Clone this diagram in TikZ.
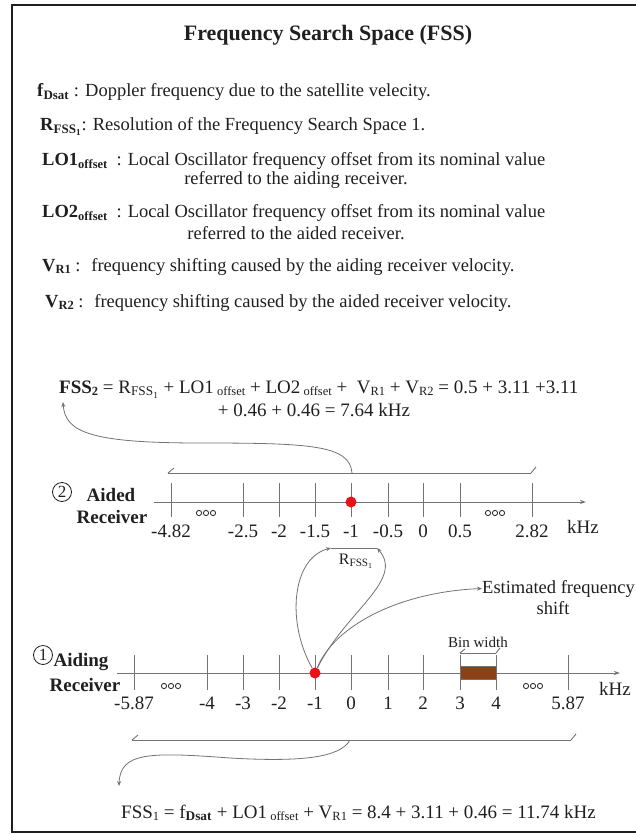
\documentclass[tikz,border=0pt]{standalone}
\usepackage{fontspec}
\setmainfont{Liberation Serif}
\usepackage{xcolor}
\definecolor{binfill}{RGB}{139,64,24}
\definecolor{estdot}{RGB}{232,18,24}
\definecolor{axisgray}{gray}{0.45}
\definecolor{ink}{gray}{0.12}
\usetikzlibrary{arrows.meta}
\usetikzlibrary{positioning}
\usetikzlibrary{calc}

\newcommand{\fs}[1]{\fontsize{#1}{#1}\selectfont}
\newcommand{\smallsub}[1]{\raisebox{-0.3ex}{\fs{12.5}#1}}

\begin{document}
\begin{tikzpicture}[x=1pt,y=-1pt,
	txt/.style={inner sep=0pt, text=ink, font=\fs{18.5}},
	deftxt/.style={txt, anchor=base west},
	eqtxt/.style={txt, font=\fs{19}},
	ticklbl/.style={txt, anchor=base, font=\fs{19}},
	rcvlbl/.style={txt, anchor=base, font=\fs{19}\bfseries},
	numcirc/.style={circle, draw=ink, thick, inner sep=0pt, minimum size=19pt, font=\fs{17}, text=ink},
	axisline/.style={draw=axisgray, line width=1pt, -{Stealth[length=6pt,width=4pt]}},
	tick/.style={draw=axisgray, line width=0.9pt},
	spanline/.style={draw=axisgray, line width=0.9pt},
	curvearrow/.style={draw=axisgray, line width=0.8pt, -{Stealth[length=5pt,width=4pt]}},
	estpt/.style={circle, fill=estdot, inner sep=0pt, minimum size=11pt},
	]
	\useasboundingbox (0,0) rectangle (635,834);
	%frame, open to the right
	\draw[line width=2.4pt, ink] (645,5) -- (12,5) -- (12,832) -- (645,832);

	%title & definitions
	\node[txt, anchor=base, font=\fs{22}\bfseries] (title) at (328,41) {Frequency Search Space (FSS)};
	\node[deftxt] (fdsat) at (37,97) {\textbf{f}\textsubscript{\bfseries Dsat} : Doppler frequency due to the satellite velecity.};
	\node[deftxt] (rfss) at (40,131) {\textbf{R}\textsubscript{\bfseries FSS\textsubscript{1}}: Resolution of the Frequency Search Space 1.};
	\node[deftxt] (lo1) at (42,166) {\textbf{LO1}\smallsub{\bfseries offset} \ : Local Oscillator frequency offset from its nominal value};
	\node[txt, anchor=base] (lo1b) at (296,185) {referred to the aiding receiver.};
	\node[deftxt] (lo2) at (42,218) {\textbf{LO2}\smallsub{\bfseries offset} \ : Local Oscillator frequency offset from its nominal value};
	\node[txt, anchor=base] (lo2b) at (296,239) {referred to the aided receiver.};
	\node[deftxt] (vr1) at (42,271) {\textbf{V}\smallsub{\bfseries R1} : \ frequency shifting caused by the aiding receiver velocity.};
	\node[deftxt] (vr2) at (45,307) {\textbf{V}\smallsub{\bfseries R2} : \ frequency shifting caused by the aided receiver velocity.};

	%FSS2 equation
	\node[eqtxt, anchor=base west] (fss2) at (59,393) {\textbf{FSS}\smallsub{\bfseries 2} = R\textsubscript{FSS\textsubscript{1}} + LO1\,\smallsub{offset} + LO2\,\smallsub{offset} + \ V\smallsub{R1} + V\smallsub{R2} = 0.5 + 3.11 +3.11};
	\node[eqtxt, anchor=base] (fss2b) at (314,416) {+ 0.46 + 0.46 = 7.64 kHz};

	%aided receiver axis
	\node[rcvlbl] (aided) at (111,501) {Aided};
	\node[rcvlbl] (aidedrcv) at (112,523) {Receiver};
	\node[numcirc] (num2) at (62,492) {2};
	\draw[axisline] (154,502) -- (586,502);
	\foreach \v/\x in {-4.82/171,-2.5/243,-2/279,-1.5/315,-1/351,-0.5/388,0/423,0.5/460,2.82/532}
	{
		\draw[tick] (\x,483) -- (\x,517);
		\node[ticklbl] at (\x,537) {\v};
	}
	\foreach \c in {206,495}
		\foreach \k in {-7,0,7}
			\draw[ink, line width=0.8pt] (\c+\k,513) circle (2.6pt);
	\node[ticklbl] (aidedkhz) at (583,533) {kHz};
	\node[estpt] (aidedpt) at (351,502) {};

	%FSS2 span
	\coordinate (fss2l) at (168,473);
	\coordinate (fss2r) at (531,473);
	\coordinate (fss2m) at (352,473);
	\coordinate (fss2tip) at (63,402);
	\draw[spanline] (fss2l) -- (fss2r);
	\draw[spanline] (fss2l) -- ++(6,-5);
	\draw[spanline] (fss2r) -- ++(5,-6);
	\draw[curvearrow] (fss2m) .. controls (350,445) and (310,443) .. (200,443) .. controls (90,443) and (65,432) .. (fss2tip);

	%resolution span
	\coordinate (rfssl) at (331,548);
	\coordinate (rfssr) at (377,548);
	\draw[spanline] (rfssl) -- (rfssr);
	\node[txt, anchor=base, font=\fs{16}] (rfsslbl) at (356,564) {R\textsubscript{FSS\textsubscript{1}}};

	%aiding receiver axis
	\node[rcvlbl] (aiding) at (81,666) {Aiding};
	\node[rcvlbl] (aidingrcv) at (85,691) {Receiver};
	\node[numcirc] (num1) at (43,655) {1};
	\draw[axisline] (117,673) -- (620,673);
	\foreach \v/\x in {-5.87/134,-4/207,-3/243,-2/279,-1/315,0/351,1/388,2/423,3/460,4/496,5.87/568}
	{
		\draw[tick] (\x,655) -- (\x,690);
		\node[ticklbl] at (\x,709) {\v};
	}
	\foreach \c in {171,533}
		\foreach \k in {-7,0,7}
			\draw[ink, line width=0.8pt] (\c+\k,686) circle (2.6pt);
	\node[ticklbl] (aidingkhz) at (615,695) {kHz};
	\draw[draw=axisgray, fill=binfill, line width=0.8pt] (460,666) rectangle (496,679);
	\node[estpt] (aidingpt) at (315,673) {};

	%bin width
	\coordinate (binl) at (460,653);
	\coordinate (binr) at (496,653);
	\draw[spanline] (binl) -- (binr);
	\draw[spanline] (binl) -- ++(5,-4);
	\draw[spanline] (binr) -- ++(4,-5);
	\node[txt, anchor=base, font=\fs{15}] (binlbl) at (478,647) {Bin width};

	%estimated frequency shift
	\node[txt, anchor=base west] (est) at (482,593) {Estimated frequency};
	\node[txt, anchor=base] (estb) at (553,614) {shift};
	\draw[curvearrow] (aidingpt) .. controls (335,625) and (400,592) .. (est.west);
	\draw[curvearrow] (aidingpt) .. controls (286,622) and (292,558) .. (rfssl);
	\draw[curvearrow] (aidingpt) .. controls (345,612) and (405,580) .. (rfssr);

	%FSS1 span & equation
	\coordinate (fss1l) at (132,740);
	\coordinate (fss1r) at (571,740);
	\coordinate (fss1m) at (350,740);
	\coordinate (fss1tip) at (119,786);
	\draw[spanline] (fss1l) -- (fss1r);
	\draw[spanline] (fss1l) -- ++(6,-5);
	\draw[spanline] (fss1r) -- ++(5,-6);
	\draw[curvearrow] (fss1m) .. controls (340,758) and (300,762) .. (230,758) .. controls (150,752) and (120,752) .. (fss1tip);
	\node[eqtxt, anchor=base west] (fss1) at (121,818) {FSS\smallsub{1} = f\textsubscript{\bfseries Dsat} + LO1\,\smallsub{offset} + V\smallsub{R1} = 8.4 + 3.11 + 0.46 = 11.74 kHz};
\end{tikzpicture}
\end{document}
